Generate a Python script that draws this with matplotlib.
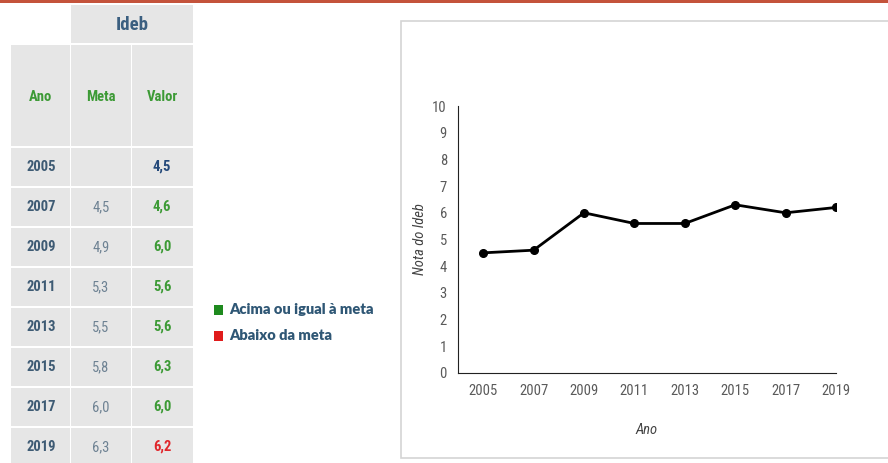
import matplotlib.pyplot as plt
from matplotlib.patches import Rectangle

# Ideb por ano
anos = ["2005", "2007", "2009", "2011", "2013", "2015", "2017", "2019"]
meta = [None, 4.5, 4.9, 5.3, 5.5, 5.8, 6.0, 6.3]
valor = [4.5, 4.6, 6.0, 5.6, 5.6, 6.3, 6.0, 6.2]

COND = ["Roboto Condensed", "Liberation Sans Narrow", "Liberation Sans"]
CELL = "#e6e6e6"
GREEN = "#3c9a35"
SLATE = "#3e5b74"


def fmt(v):
    return f"{v:.1f}".replace(".", ",")


fig = plt.figure(figsize=(8.88, 4.63), dpi=100)
fig.patch.set_facecolor("white")

# pixel canvas for the table, legend and frame
cv = fig.add_axes([0, 0, 1, 1])
cv.set_xlim(0, 888)
cv.set_ylim(463, 0)
cv.axis("off")

cv.add_patch(Rectangle((0, 0), 888, 3, color="#c4533b", lw=0))
cv.add_patch(Rectangle((400.5, 20.5), 500, 437, fc="white", ec="#d4d4d4", lw=1.2))

# table header
cv.add_patch(Rectangle((71, 5), 122, 38, color=CELL, lw=0))
cv.text(132, 25, "Ideb", ha="center", va="center", color="#3b5f80",
        fontsize=13.5, fontweight="bold", family=COND)

cols = [(11, 59), (71, 60), (132, 61)]
for (x0, w), name in zip(cols, ["Ano", "Meta", "Valor"]):
    cv.add_patch(Rectangle((x0, 45), w, 101, color=CELL, lw=0))
    cv.text(x0 + w / 2, 97, name, ha="center", va="center", color=GREEN,
            fontsize=10.5, fontweight="bold", family=COND)

for i, ano in enumerate(anos):
    y0 = 148 + 40 * i
    yc = y0 + 19
    for x0, w in cols:
        cv.add_patch(Rectangle((x0, y0), w, 38, color=CELL, lw=0))
    cv.text(41, yc, ano, ha="center", va="center", color=SLATE,
            fontsize=10.5, fontweight="bold", family=COND)
    if meta[i] is not None:
        cv.text(101, yc, fmt(meta[i]), ha="center", va="center",
                color="#6e8293", fontsize=10.5, family=COND)
        cor = GREEN if valor[i] >= meta[i] else "#e0262b"
    else:
        cor = "#24497a"
    cv.text(162, yc, fmt(valor[i]), ha="center", va="center", color=cor,
            fontsize=10.5, fontweight="bold", family=COND)

# legend
LEG = ["Lato", "DejaVu Sans"]
cv.add_patch(Rectangle((214, 305), 9, 10, color="#1e8a1e", lw=0))
cv.text(229, 310, "Acima ou igual à meta", ha="left", va="center",
        color="#2f5775", fontsize=10.5, fontweight="heavy", family=LEG)
cv.add_patch(Rectangle((214, 331), 9, 10, color="#e01b1b", lw=0))
cv.text(229, 336, "Abaixo da meta", ha="left", va="center",
        color="#2f5775", fontsize=10.5, fontweight="heavy", family=LEG)

# line chart
ax = fig.add_axes([458 / 888, 90 / 463, 378 / 888, 267 / 463])
x = list(range(len(anos)))
ax.plot(x, valor, color="black", lw=2, marker="o", ms=5.5)
ax.set_xlim(-0.5, len(anos) - 1)
ax.set_ylim(0, 10)
ax.set_xticks(x)
ax.set_xticklabels(anos)
ax.set_yticks(range(0, 11))
ax.tick_params(length=0, colors="#5a5a5a", labelsize=10.5, pad=8)
for lbl in ax.get_xticklabels() + ax.get_yticklabels():
    lbl.set_family(COND)
ax.spines["top"].set_visible(False)
ax.spines["right"].set_visible(False)
ax.spines["left"].set_color("#222222")
ax.spines["bottom"].set_color("#222222")
ax.set_xlabel("Ano", fontsize=10.5, style="italic", color="#444444",
              family=COND, labelpad=18)
ax.set_ylabel("Nota do Ideb", fontsize=10.5, style="italic", color="#444444",
              family=COND, labelpad=4)

fig.savefig("out.png", dpi=100)
